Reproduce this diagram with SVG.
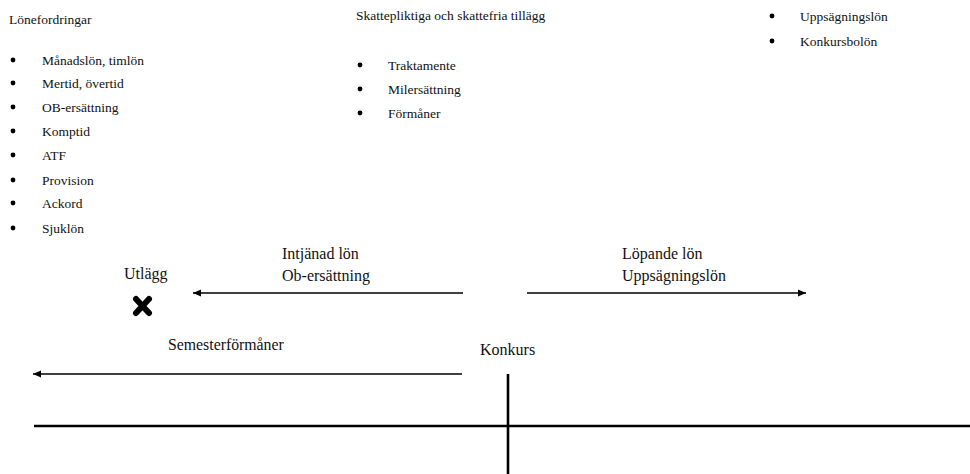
<svg xmlns="http://www.w3.org/2000/svg" width="970" height="474" viewBox="0 0 970 474">
  <defs>
    <style>
      .s { font-size: 13.5px; }
      .m { font-size: 16px; }
      .sm { font-size: 15.8px; }
      .bul { fill: #000; }
      .arr { stroke: #000; stroke-width: 1.6; fill: none; }
      .axis { stroke: #000; stroke-width: 2.6; fill: none; }
    </style>
    <marker id="ah" markerUnits="userSpaceOnUse" markerWidth="9" markerHeight="8" refX="8" refY="4" orient="auto">
      <path d="M0,0.5 L8,4 L0,7.5 z" fill="#000"/>
    </marker>
  </defs>
  <rect width="970" height="474" fill="#fff"/>

  <g font-family="'Liberation Serif', 'Times New Roman', 'DejaVu Serif', serif" fill="#111">
  <g id="loneford">
    <text class="s" x="9" y="24">Lönefordringar</text>
    <circle class="bul" cx="13" cy="60" r="2.4"/><text class="s" x="42" y="64.5">Månadslön, timlön</text>
    <circle class="bul" cx="13" cy="83" r="2.4"/><text class="s" x="42" y="87.5">Mertid, övertid</text>
    <circle class="bul" cx="13" cy="107" r="2.4"/><text class="s" x="42" y="111.5">OB-ersättning</text>
    <circle class="bul" cx="13" cy="131" r="2.4"/><text class="s" x="42" y="135.5">Komptid</text>
    <circle class="bul" cx="13" cy="155" r="2.4"/><text class="s" x="42" y="159.5">ATF</text>
    <circle class="bul" cx="13" cy="180" r="2.4"/><text class="s" x="42" y="184.5">Provision</text>
    <circle class="bul" cx="13" cy="203" r="2.4"/><text class="s" x="42" y="207.5">Ackord</text>
    <circle class="bul" cx="13" cy="228" r="2.4"/><text class="s" x="42" y="232.5">Sjuklön</text>
  </g>

  <g id="tillagg">
    <text class="s" x="356" y="20">Skattepliktiga och skattefria tillägg</text>
    <circle class="bul" cx="360" cy="65" r="2.4"/><text class="s" x="388" y="69.5">Traktamente</text>
    <circle class="bul" cx="360" cy="89" r="2.4"/><text class="s" x="388" y="93.5">Milersättning</text>
    <circle class="bul" cx="360" cy="113" r="2.4"/><text class="s" x="388" y="117.5">Förmåner</text>
  </g>

  <g id="konkurslon">
    <circle class="bul" cx="772" cy="16" r="2.4"/><text class="s" x="800" y="20.5">Uppsägningslön</text>
    <circle class="bul" cx="772" cy="41" r="2.4"/><text class="s" x="800" y="45.5">Konkursbolön</text>
  </g>

  <g id="utlagg">
    <text class="m" x="124" y="279">Utlägg</text>
    <path d="M136,299 L149,313 M149,299 L136,313" stroke="#000" stroke-width="6" stroke-linecap="round"/>
  </g>

  <g id="intjanad">
    <text class="m" x="282" y="258.5">Intjänad lön</text>
    <text class="m" x="282" y="280.5">Ob-ersättning</text>
  </g>

  <g id="lopande">
    <text class="m" x="622" y="258.5">Löpande lön</text>
    <text class="m" x="622" y="280.5">Uppsägningslön</text>
  </g>

  <g id="semester">
    <text class="sm" x="168" y="350">Semesterförmåner</text>
  </g>

  <g id="konkurs">
    <text class="m" x="480" y="355">Konkurs</text>
  </g>
  </g>

  <g id="connectors">
    <line class="arr" x1="463" y1="293" x2="193" y2="293" marker-end="url(#ah)"/>
    <line class="arr" x1="527" y1="293" x2="806" y2="293" marker-end="url(#ah)"/>
    <line class="arr" x1="462" y1="374" x2="33" y2="374" marker-end="url(#ah)"/>
    <line class="axis" x1="34" y1="426" x2="970" y2="426"/>
    <line class="axis" x1="508" y1="374" x2="508" y2="474"/>
  </g>
</svg>
